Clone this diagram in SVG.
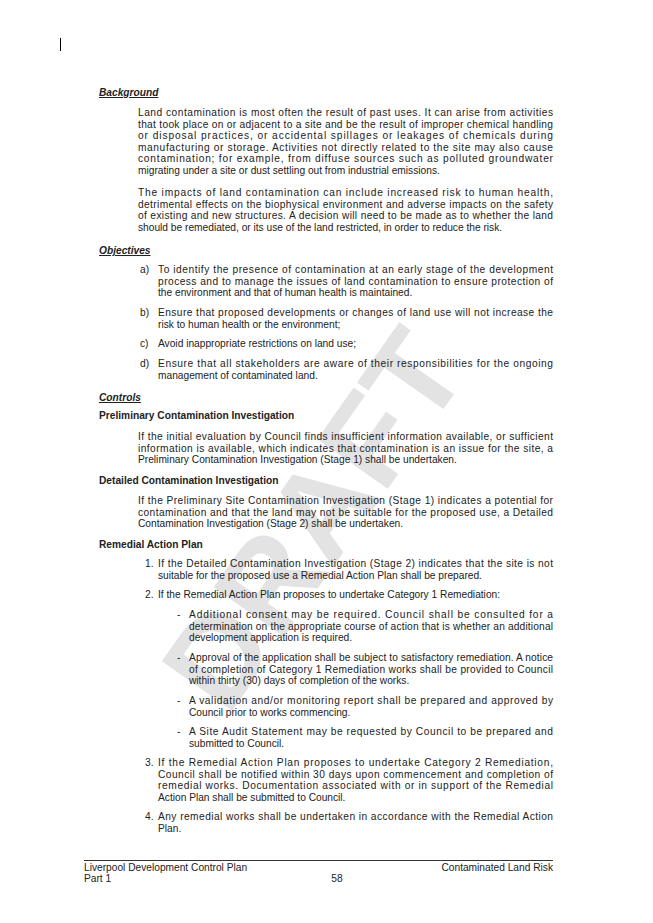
<svg xmlns="http://www.w3.org/2000/svg" width="653" height="923" viewBox="0 0 653 923">
<style>
text{font-family:"Liberation Sans",Arial,sans-serif;font-size:10.2px;fill:#222}
.h{font-weight:bold;font-style:italic;text-decoration:underline}
.b{font-weight:bold}
.wm{font-size:125px;font-weight:bold;fill:#d0d0d0;fill-opacity:0.6;stroke:none}
</style>
<rect width="653" height="923" fill="#fff"/>
<text class="wm" x="0" y="0" transform="translate(322,525) rotate(-55)" text-anchor="middle" dominant-baseline="middle">DRAFT</text>
<line x1="60.5" y1="38" x2="60.5" y2="51" stroke="#000"/>
<text class="h" x="99" y="96">Background</text>
<g lengthAdjust="spacing">
<text x="138" y="116" textLength="415">Land contamination is most often the result of past uses.  It can arise from activities</text>
<text x="138" y="127.5" textLength="415">that took place on or adjacent to a site and be the result of improper chemical handling</text>
<text x="138" y="139" textLength="415">or disposal practices, or accidental spillages or leakages of chemicals during</text>
<text x="138" y="150.5" textLength="415">manufacturing or storage.  Activities not directly related to the site may also cause</text>
<text x="138" y="162" textLength="415">contamination; for example, from diffuse sources such as polluted groundwater</text>
<text x="138" y="173.5">migrating under a site or dust settling out from industrial emissions.</text>
<text x="138" y="196" textLength="415">The impacts of land contamination can include increased risk to human health,</text>
<text x="138" y="207.5" textLength="415">detrimental effects on the biophysical environment and adverse impacts on the safety</text>
<text x="138" y="219" textLength="415">of existing and new structures.  A decision will need to be made as to whether the land</text>
<text x="138" y="230.5">should be remediated, or its use of the land restricted, in order to reduce the risk.</text>
</g>
<text class="h" x="99" y="254">Objectives</text>
<text x="140" y="273">a)</text>
<text x="158" y="273" textLength="395" lengthAdjust="spacing">To identify the presence of contamination at an early stage of the development</text>
<text x="158" y="284.5" textLength="395" lengthAdjust="spacing">process and to manage the issues of land contamination to ensure protection of</text>
<text x="158" y="296">the environment and that of human health is maintained.</text>
<text x="140" y="316">b)</text>
<text x="158" y="316" textLength="395" lengthAdjust="spacing">Ensure that proposed developments or changes of land use will not increase the</text>
<text x="158" y="327.5">risk to human health or the environment;</text>
<text x="140" y="347">c)</text>
<text x="158" y="347">Avoid inappropriate restrictions on land use;</text>
<text x="140" y="367">d)</text>
<text x="158" y="367" textLength="395" lengthAdjust="spacing">Ensure that all stakeholders are aware of their responsibilities for the ongoing</text>
<text x="158" y="378.5">management of contaminated land.</text>
<text class="h" x="99" y="401">Controls</text>
<text class="b" x="99" y="419">Preliminary Contamination Investigation</text>
<text x="138" y="440" textLength="415" lengthAdjust="spacing">If the initial evaluation by Council finds insufficient information available, or sufficient</text>
<text x="138" y="451.5" textLength="415" lengthAdjust="spacing">information is available, which indicates that contamination is an issue for the site, a</text>
<text x="138" y="463">Preliminary Contamination Investigation (Stage 1) shall be undertaken.</text>
<text class="b" x="99" y="484">Detailed Contamination Investigation</text>
<text x="138" y="504" textLength="415" lengthAdjust="spacing">If the Preliminary Site Contamination Investigation (Stage 1) indicates a potential for</text>
<text x="138" y="515.5" textLength="415" lengthAdjust="spacing">contamination and that the land may not be suitable for the proposed use, a Detailed</text>
<text x="138" y="527">Contamination Investigation (Stage 2) shall be undertaken.</text>
<text class="b" x="99" y="548">Remedial Action Plan</text>
<text x="145" y="567">1.</text>
<text x="158" y="567" textLength="395" lengthAdjust="spacing">If the Detailed Contamination Investigation (Stage 2) indicates that the site is not</text>
<text x="158" y="578.5">suitable for the proposed use a Remedial Action Plan shall be prepared.</text>
<text x="145" y="598">2.</text>
<text x="158" y="598">If the Remedial Action Plan proposes to undertake Category 1 Remediation:</text>
<text x="177" y="618">-</text>
<text x="189" y="618" textLength="364" lengthAdjust="spacing">Additional consent may be required. Council shall be consulted for a</text>
<text x="189" y="629.5" textLength="364" lengthAdjust="spacing">determination on the appropriate course of action that is whether an additional</text>
<text x="189" y="641">development application is required.</text>
<text x="177" y="661">-</text>
<text x="189" y="661" textLength="364" lengthAdjust="spacing">Approval of the application shall be subject to satisfactory remediation. A notice</text>
<text x="189" y="672.5" textLength="364" lengthAdjust="spacing">of completion of Category 1 Remediation works shall be provided to Council</text>
<text x="189" y="684">within thirty (30) days of completion of the works.</text>
<text x="177" y="704">-</text>
<text x="189" y="704" textLength="364" lengthAdjust="spacing">A validation and/or monitoring report shall be prepared and approved by</text>
<text x="189" y="715.5">Council prior to works commencing.</text>
<text x="177" y="735">-</text>
<text x="189" y="735" textLength="364" lengthAdjust="spacing">A Site Audit Statement may be requested by Council to be prepared and</text>
<text x="189" y="746.5">submitted to Council.</text>
<text x="145" y="766">3.</text>
<text x="158" y="766" textLength="395" lengthAdjust="spacing">If the Remedial Action Plan proposes to undertake Category 2 Remediation,</text>
<text x="158" y="777.5" textLength="395" lengthAdjust="spacing">Council shall be notified within 30 days upon commencement and completion of</text>
<text x="158" y="789" textLength="395" lengthAdjust="spacing">remedial works. Documentation associated with or in support of the Remedial</text>
<text x="158" y="800.5">Action Plan shall be submitted to Council.</text>
<text x="145" y="820">4.</text>
<text x="158" y="820" textLength="395" lengthAdjust="spacing">Any remedial works shall be undertaken in accordance with the Remedial Action</text>
<text x="158" y="831.5">Plan.</text>
<line x1="84" y1="860.5" x2="553" y2="860.5" stroke="#000" stroke-width="0.8"/>
<text x="84" y="871">Liverpool Development Control Plan</text>
<text x="553" y="871" text-anchor="end">Contaminated Land Risk</text>
<text x="84" y="882">Part 1</text>
<text x="337" y="882" text-anchor="middle">58</text>
</svg>
